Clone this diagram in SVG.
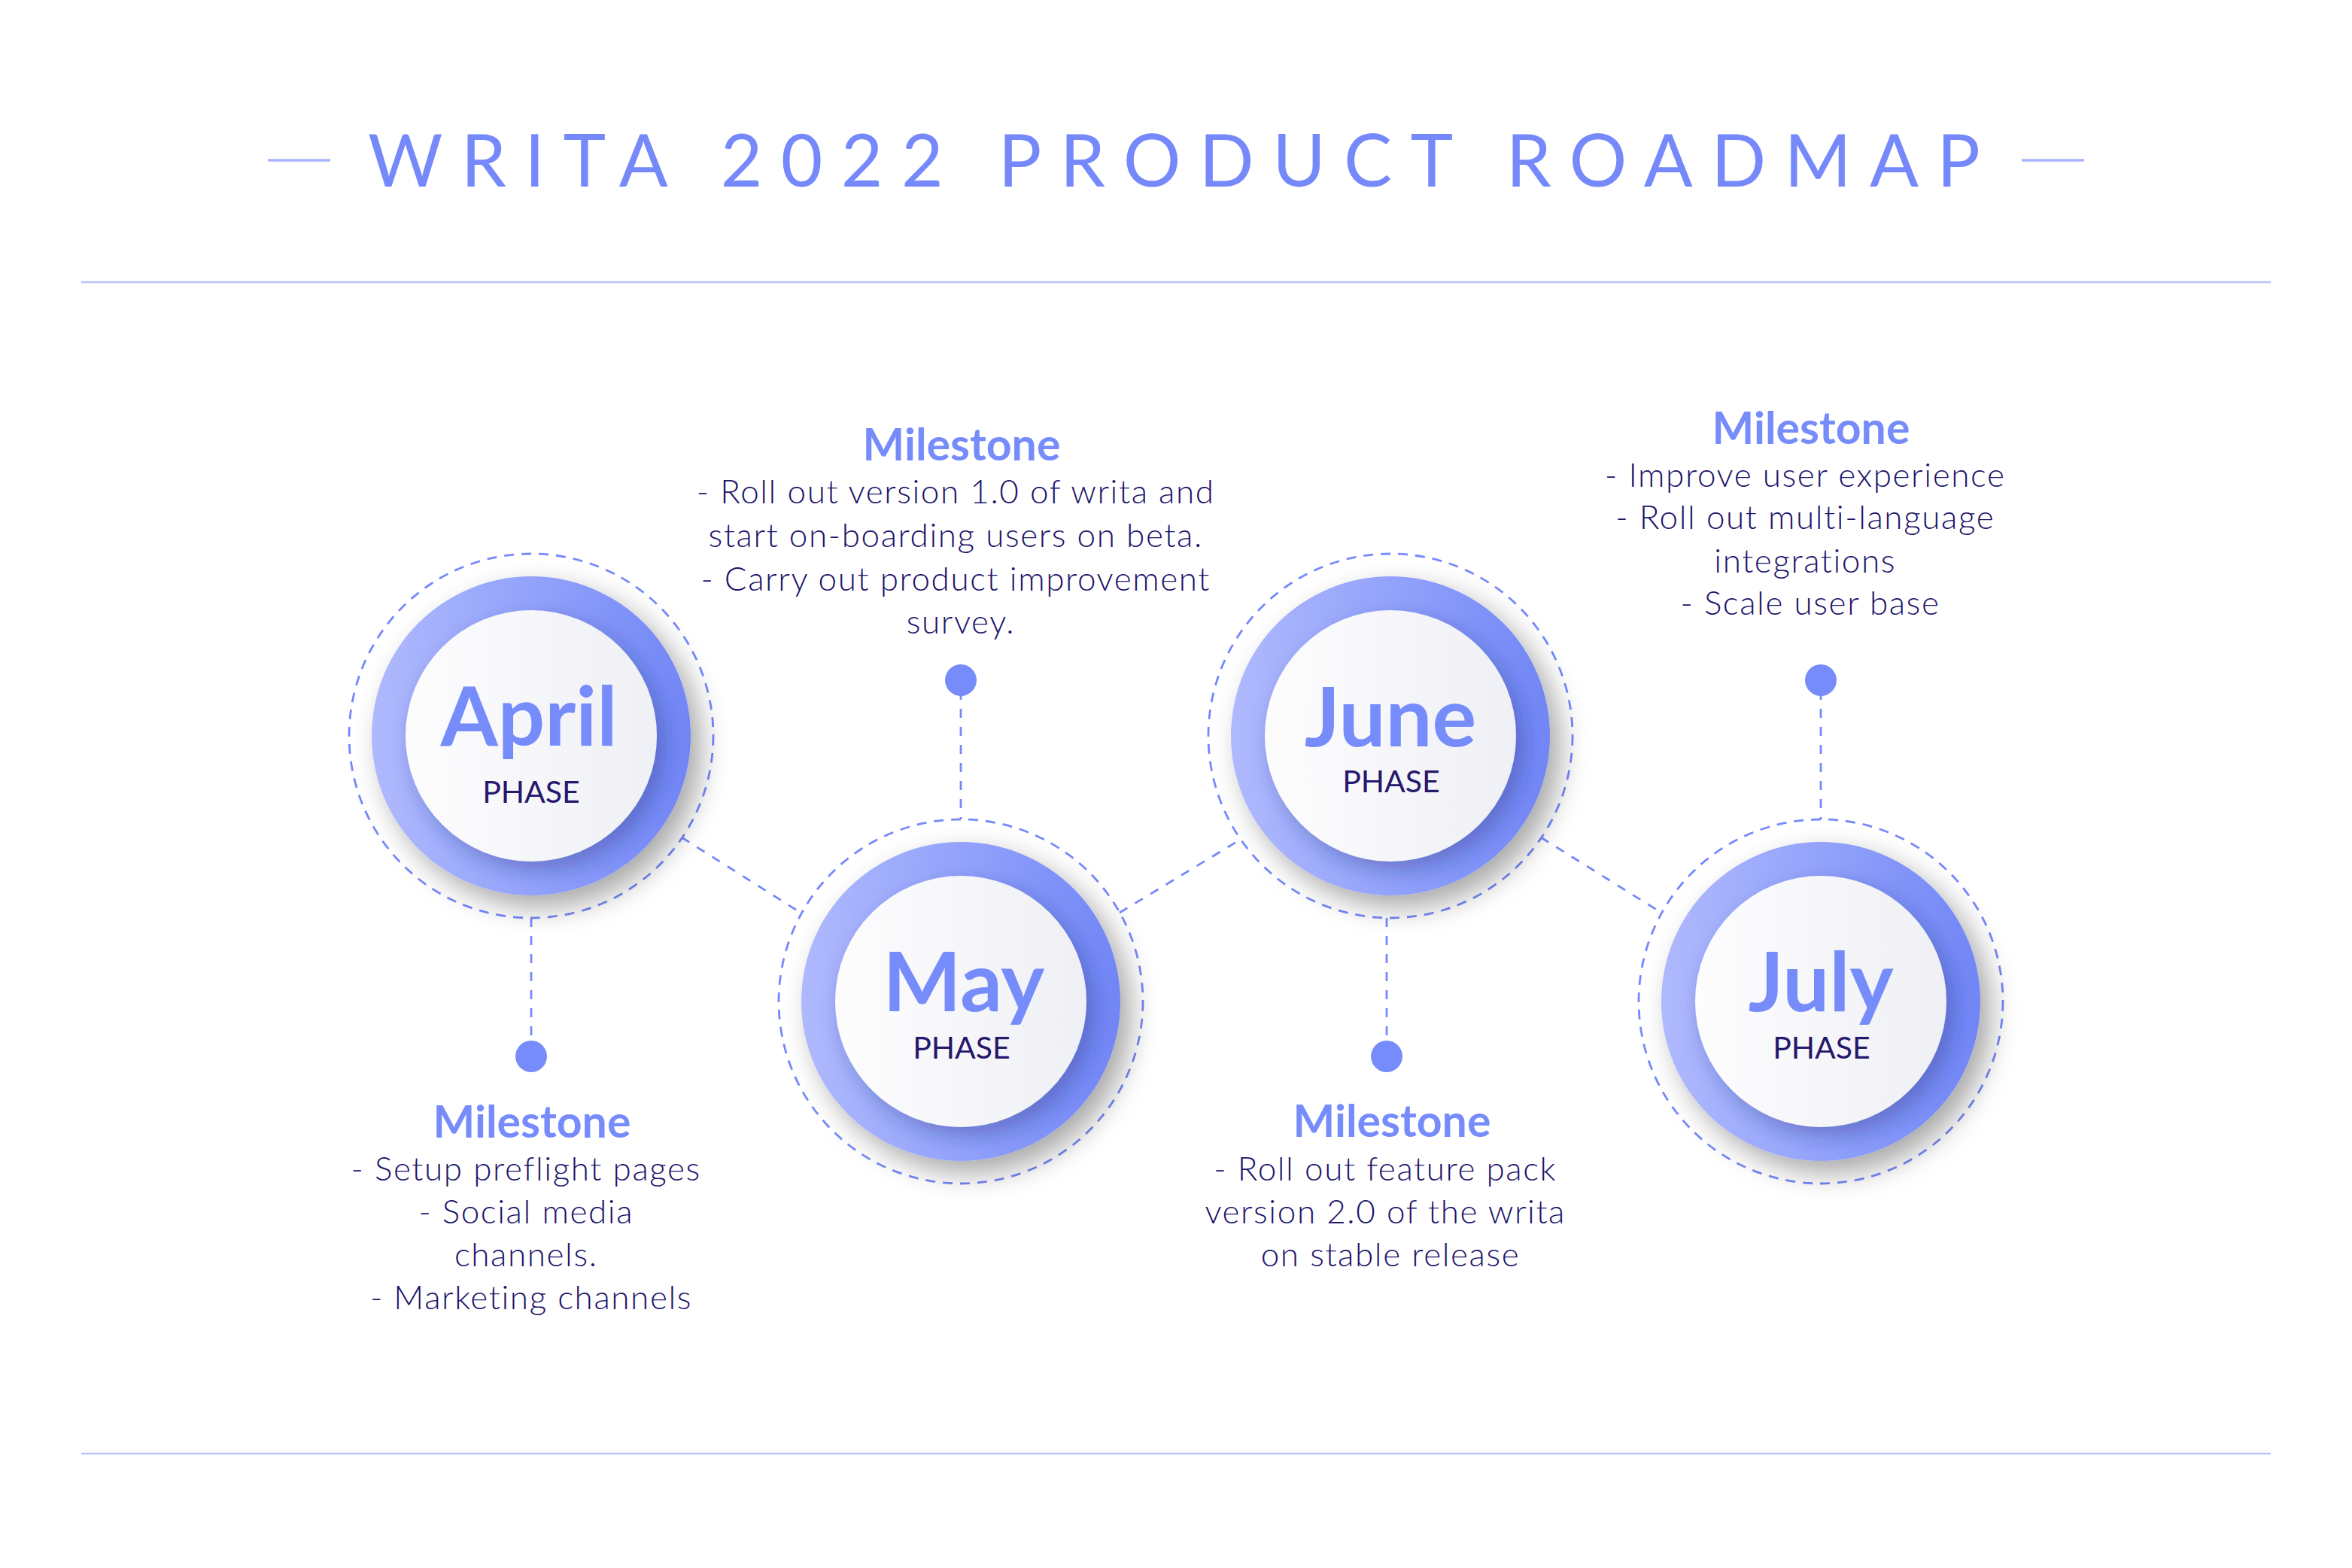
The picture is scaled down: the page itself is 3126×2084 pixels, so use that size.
<svg xmlns="http://www.w3.org/2000/svg" width="3126" height="2084" viewBox="0 0 3126 2084">
  <defs>
    <linearGradient id="ringGrad" x1="0" y1="0" x2="1" y2="0">
      <stop offset="0" stop-color="#AFB9FD"/>
      <stop offset="0.5" stop-color="#93A3FB"/>
      <stop offset="1" stop-color="#7186F6"/>
    </linearGradient>
    <linearGradient id="faceGrad" x1="0" y1="0" x2="1" y2="0">
      <stop offset="0" stop-color="#FDFDFE"/>
      <stop offset="1" stop-color="#EFF0F5"/>
    </linearGradient>
    <filter id="ringShadow" x="-30%" y="-30%" width="160%" height="160%">
      <feDropShadow dx="14" dy="16" stdDeviation="18" flood-color="#000" flood-opacity="0.34"/>
    </filter>
    <filter id="faceShadow" x="-30%" y="-30%" width="160%" height="160%">
      <feDropShadow dx="10" dy="12" stdDeviation="14" flood-color="#1E2A7A" flood-opacity="0.35"/>
    </filter>
    <style>
      .rule { stroke: #BAC3FA; stroke-width: 2.5; }
      .titleDash { stroke: #A9B5FA; stroke-width: 3.5; }
      .title { font-family: Lato, "Liberation Sans", sans-serif; font-size: 96px; font-weight: 400; fill: #7689FA; }
      .halo { fill: none; stroke: #7689FA; stroke-width: 2.8; stroke-dasharray: 13 10; }
      .ring { fill: url(#ringGrad); filter: url(#ringShadow); }
      .face { fill: url(#faceGrad); filter: url(#faceShadow); }
      .month { font-family: Lato, "Liberation Sans", sans-serif; font-size: 110px; font-weight: 700; fill: #778CFB; text-anchor: middle; }
      .phase { font-family: Lato, "Liberation Sans", sans-serif; font-size: 41px; font-weight: 400; fill: #26186C; text-anchor: middle; }
      .link { fill: none; stroke: #7689FA; stroke-width: 2.8; stroke-dasharray: 12 12; }
      .dot { fill: #778CFB; }
      .msHead { font-family: Lato, "Liberation Sans", sans-serif; font-size: 59px; font-weight: 700; fill: #778CFB; text-anchor: middle; }
      .msBody { font-family: Lato, "Liberation Sans", sans-serif; font-size: 44px; font-weight: 300; fill: #20146A; text-anchor: middle; letter-spacing: 1.6px; }
    </style>
  </defs>

  <rect width="3126" height="2084" fill="#FFFFFF"/>

  <!-- header -->
  <g id="header">
    <line class="titleDash" x1="356" y1="213" x2="439" y2="213"/>
    <line class="titleDash" x1="2687" y1="213" x2="2770" y2="213"/>
    <text class="title" x="489" y="248" textLength="2143" lengthAdjust="spacing">WRITA 2022 PRODUCT ROADMAP</text>
    <line class="rule" x1="108" y1="375" x2="3018" y2="375"/>
  </g>
  <line class="rule" x1="108" y1="1932" x2="3018" y2="1932"/>

  <!-- dashed connectors -->
  <g id="connectors">
    <line class="link" x1="906" y1="1113" x2="1064" y2="1213"/>
    <line class="link" x1="1488" y1="1213" x2="1650" y2="1115"/>
    <line class="link" x1="2048" y1="1113" x2="2208" y2="1213"/>
    <line class="link" x1="706" y1="1220" x2="706" y2="1390"/>
    <line class="link" x1="1277" y1="918" x2="1277" y2="1089"/>
    <line class="link" x1="1843" y1="1220" x2="1843" y2="1390"/>
    <line class="link" x1="2420" y1="918" x2="2420" y2="1089"/>
  </g>

  <!-- April -->
  <g id="node-april">
    <circle class="halo" cx="706" cy="978" r="242"/>
    <circle class="ring" cx="706" cy="978" r="212"/>
    <circle class="face" cx="706" cy="978" r="167"/>
    <text class="month" x="703" y="991">April</text>
    <text class="phase" x="706" y="1067">PHASE</text>
  </g>

  <!-- May -->
  <g id="node-may">
    <circle class="halo" cx="1277" cy="1331" r="242"/>
    <circle class="ring" cx="1277" cy="1331" r="212"/>
    <circle class="face" cx="1277" cy="1331" r="167"/>
    <text class="month" x="1281" y="1344">May</text>
    <text class="phase" x="1278" y="1407">PHASE</text>
  </g>

  <!-- June -->
  <g id="node-june">
    <circle class="halo" cx="1848" cy="978" r="242"/>
    <circle class="ring" cx="1848" cy="978" r="212"/>
    <circle class="face" cx="1848" cy="978" r="167"/>
    <text class="month" x="1848" y="992">June</text>
    <text class="phase" x="1849" y="1053">PHASE</text>
  </g>

  <!-- July -->
  <g id="node-july">
    <circle class="halo" cx="2420" cy="1331" r="242"/>
    <circle class="ring" cx="2420" cy="1331" r="212"/>
    <circle class="face" cx="2420" cy="1331" r="167"/>
    <text class="month" x="2420" y="1344">July</text>
    <text class="phase" x="2421" y="1407">PHASE</text>
  </g>

  <!-- milestone: April -->
  <g id="milestone-april">
    <circle class="dot" cx="706" cy="1404" r="21"/>
    <text class="msHead" x="707" y="1512">Milestone</text>
    <text class="msBody">
      <tspan x="706" y="1569">- Setup preflight pages</tspan>
      <tspan x="706" y="1626">- Social media</tspan>
      <tspan x="706" y="1683">channels.</tspan>
      <tspan x="706" y="1740">- Marketing channels</tspan>
    </text>
  </g>

  <!-- milestone: May -->
  <g id="milestone-may">
    <circle class="dot" cx="1277" cy="904" r="21"/>
    <text class="msHead" x="1278" y="612">Milestone</text>
    <text class="msBody">
      <tspan x="1277" y="669">- Roll out version 1.0 of writa and</tspan>
      <tspan x="1277" y="727">start on-boarding users on beta.</tspan>
      <tspan x="1277" y="785">- Carry out product improvement</tspan>
      <tspan x="1277" y="842">survey.</tspan>
    </text>
  </g>

  <!-- milestone: June -->
  <g id="milestone-june">
    <circle class="dot" cx="1843" cy="1404" r="21"/>
    <text class="msHead" x="1850" y="1511">Milestone</text>
    <text class="msBody">
      <tspan x="1848" y="1569">- Roll out feature pack</tspan>
      <tspan x="1848" y="1626">version 2.0 of the writa</tspan>
      <tspan x="1848" y="1683">on stable release</tspan>
    </text>
  </g>

  <!-- milestone: July -->
  <g id="milestone-july">
    <circle class="dot" cx="2420" cy="904" r="21"/>
    <text class="msHead" x="2407" y="590">Milestone</text>
    <text class="msBody">
      <tspan x="2406" y="647">- Improve user experience</tspan>
      <tspan x="2406" y="703">- Roll out multi-language</tspan>
      <tspan x="2406" y="761">integrations</tspan>
      <tspan x="2406" y="817">- Scale user base</tspan>
    </text>
  </g>
</svg>
